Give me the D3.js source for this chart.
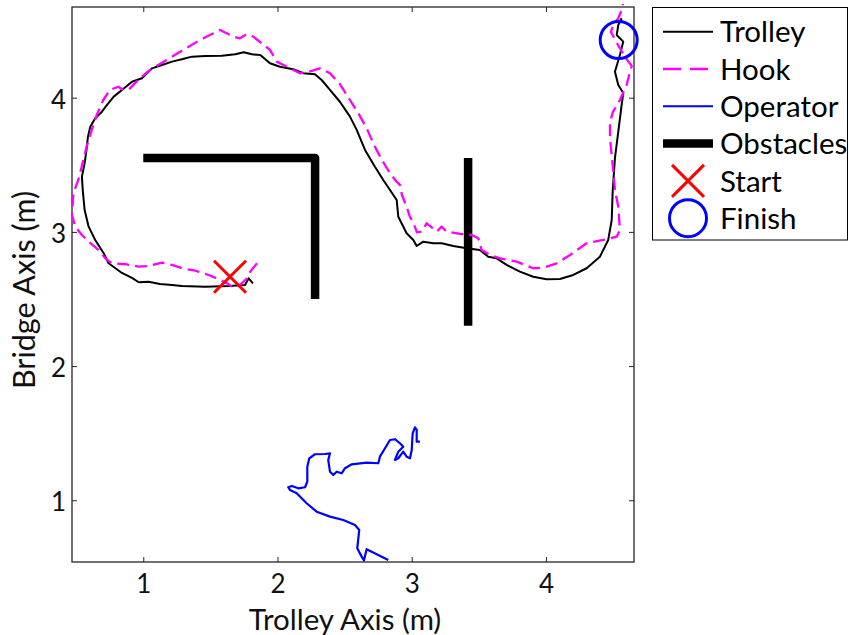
<!DOCTYPE html>
<html><head><meta charset="utf-8">
<script src="https://cdn.jsdelivr.net/npm/d3@7"></script>
<style>body{margin:0;background:#fff} svg{display:block}</style>
</head><body><svg id="c" width="849" height="635"></svg>
<script>
// ---- data (metres) ----
const xTicks = [1, 2, 3, 4];
const yTicks = [1, 2, 3, 4];
const xLabel = "Trolley Axis (m)";
const yLabel = "Bridge Axis (m)";
const legendLabels = ["Trolley", "Hook", "Operator", "Obstacles", "Start", "Finish"];

const trolleyPath = [
 [1.817,2.617],[1.785,2.654],[1.758,2.604],[1.638,2.597],[1.460,2.592],[1.288,2.597],[1.214,2.604],[1.124,2.612],
 [1.040,2.629],[0.966,2.625],[0.916,2.657],[0.841,2.694],[0.742,2.766],[0.705,2.841],[0.642,2.940],[0.593,3.039],
 [0.563,3.163],[0.549,3.312],[0.543,3.412],[0.563,3.511],[0.577,3.611],[0.588,3.710],[0.605,3.784],[0.642,3.847],
 [0.692,3.896],[0.730,3.946],[0.780,4.008],[0.841,4.058],[0.916,4.119],[0.990,4.145],[1.065,4.219],[1.139,4.244],
 [1.214,4.269],[1.288,4.286],[1.363,4.306],[1.462,4.311],[1.586,4.313],[1.685,4.324],[1.748,4.339],[1.810,4.324],
 [1.872,4.318],[1.944,4.257],[2.018,4.231],[2.117,4.212],[2.192,4.182],[2.279,4.175],[2.329,4.132],[2.391,4.058],
 [2.465,3.970],[2.540,3.859],[2.590,3.760],[2.652,3.611],[2.726,3.486],[2.788,3.387],[2.888,3.238],[2.900,3.113],
 [2.962,2.990],[3.012,2.940],[3.037,2.895],[3.086,2.927],[3.161,2.915],[3.223,2.915],[3.310,2.895],[3.409,2.878],
 [3.508,2.865],[3.570,2.815],[3.633,2.803],[3.707,2.754],[3.806,2.704],[3.905,2.666],[4.005,2.647],[4.104,2.649],
 [4.204,2.679],[4.303,2.729],[4.402,2.815],[4.464,2.940],[4.490,3.089],[4.497,3.300],[4.514,3.549],[4.539,3.747],
 [4.564,3.946],[4.576,4.035],[4.539,4.095],[4.514,4.194],[4.551,4.318],[4.576,4.418],[4.527,4.467],[4.539,4.542],
 [4.564,4.592]
];

const hookPath = [
 [1.847,2.766],[1.795,2.701],[1.773,2.654],[1.720,2.604],[1.661,2.592],[1.624,2.617],[1.562,2.647],[1.487,2.679],
 [1.387,2.711],[1.288,2.729],[1.214,2.754],[1.139,2.771],[1.040,2.746],[0.966,2.741],[0.866,2.759],[0.767,2.766],
 [0.717,2.803],[0.668,2.865],[0.593,2.927],[0.543,2.977],[0.493,3.039],[0.469,3.126],[0.479,3.288],[0.516,3.387],
 [0.541,3.486],[0.578,3.635],[0.616,3.760],[0.653,3.871],[0.702,3.983],[0.752,4.058],[0.814,4.082],[0.851,4.058],
 [0.901,4.070],[0.975,4.145],[1.050,4.207],[1.174,4.281],[1.298,4.356],[1.422,4.430],[1.522,4.480],[1.571,4.505],
 [1.621,4.480],[1.671,4.455],[1.720,4.443],[1.770,4.473],[1.820,4.455],[1.882,4.406],[1.944,4.356],[1.994,4.269],
 [2.093,4.219],[2.167,4.182],[2.234,4.194],[2.316,4.219],[2.391,4.182],[2.465,4.102],[2.540,3.983],[2.602,3.884],
 [2.664,3.774],[2.719,3.648],[2.778,3.536],[2.838,3.437],[2.888,3.374],[2.912,3.350],[2.927,3.275],[2.962,3.188],
 [2.987,3.111],[3.012,3.070],[3.039,2.996],[3.074,3.002],[3.111,3.064],[3.149,3.033],[3.186,3.002],[3.223,3.039],
 [3.260,3.002],[3.359,2.985],[3.447,2.977],[3.496,2.952],[3.521,2.865],[3.583,2.828],[3.657,2.803],[3.782,2.778],
 [3.905,2.729],[3.980,2.733],[4.080,2.766],[4.179,2.828],[4.303,2.915],[4.427,2.940],[4.527,2.964],[4.551,3.014],
 [4.539,3.188],[4.514,3.312],[4.502,3.449],[4.477,3.698],[4.477,3.819],[4.499,3.894],[4.551,3.983],[4.601,4.095],
 [4.626,4.192],[4.639,4.236],[4.589,4.304],[4.537,4.393],[4.484,4.490],[4.499,4.535],[4.539,4.592],[4.564,4.654],
 [4.574,4.698]
];

const operatorPath = [
 [2.825,0.555],[2.664,0.635],[2.644,0.551],[2.627,0.580],[2.594,0.642],[2.609,0.779],[2.577,0.816],[2.490,0.853],
 [2.391,0.878],[2.292,0.915],[2.217,0.978],[2.143,1.052],[2.093,1.077],[2.080,1.097],[2.106,1.107],[2.155,1.089],
 [2.205,1.097],[2.222,1.139],[2.222,1.250],[2.237,1.313],[2.279,1.343],[2.354,1.345],[2.391,1.350],[2.378,1.300],
 [2.391,1.213],[2.416,1.189],[2.441,1.213],[2.478,1.201],[2.503,1.239],[2.553,1.268],[2.664,1.280],[2.751,1.276],
 [2.763,1.325],[2.801,1.388],[2.838,1.449],[2.875,1.455],[2.912,1.425],[2.937,1.399],[2.900,1.362],[2.875,1.300],
 [2.900,1.313],[2.937,1.362],[2.962,1.325],[2.987,1.313],[3.000,1.375],[3.007,1.499],[3.024,1.544],[3.037,1.524],
 [3.037,1.437],[3.061,1.437]
];

const obstacleL = [[1.0,3.55],[2.28,3.55],[2.28,2.5]];
const obstacleBar = [[3.42,3.55],[3.42,2.3]];
const startPoint = [1.646, 2.666];
const finishPoint = [4.542, 4.43];

// ---- layout ----
const svg = d3.select("#c");
const L = 72, R = 634, T = 7, B = 562;
const x = d3.scaleLinear().domain([0.469, 4.656]).range([L, R]);
const y = d3.scaleLinear().domain([0.54, 4.676]).range([B, T]);
const font = "Lato, 'Open Sans', sans-serif";

const line = d3.line().x(d => x(d[0])).y(d => y(d[1]));

// axes (inward ticks, mirrored)
const axB = svg.append("g").attr("transform", `translate(0,${B})`)
  .call(d3.axisBottom(x).tickValues(xTicks).tickFormat(d3.format("d")).tickSizeInner(-5).tickSizeOuter(0).tickPadding(13));
const axL = svg.append("g").attr("transform", `translate(${L},0)`)
  .call(d3.axisLeft(y).tickValues(yTicks).tickFormat(d3.format("d")).tickSizeInner(-5).tickSizeOuter(0).tickPadding(6));
const axT = svg.append("g").attr("transform", `translate(0,${T})`)
  .call(d3.axisTop(x).tickValues(xTicks).tickFormat("").tickSizeInner(-5).tickSizeOuter(0));
const axR = svg.append("g").attr("transform", `translate(${R},0)`)
  .call(d3.axisRight(y).tickValues(yTicks).tickFormat("").tickSizeInner(-5).tickSizeOuter(0));
[axB, axL, axT, axR].forEach(g => {
  g.select(".domain").remove();
  g.selectAll(".tick line").attr("stroke", "#262626").attr("stroke-width", 1);
  g.selectAll(".tick text").attr("font-family", font).attr("font-size", 26).attr("fill", "#111");
});
axB.selectAll(".tick text").attr("dy", "0.71em");
axL.selectAll(".tick text").attr("dy", "0.40em");

svg.append("rect").attr("x", L).attr("y", T).attr("width", R - L).attr("height", B - T)
  .attr("fill", "none").attr("stroke", "#262626").attr("stroke-width", 1.3);

// data lines
svg.append("path").datum(obstacleL).attr("d", line).attr("fill", "none").attr("stroke", "#000")
  .attr("stroke-width", 8.5).attr("stroke-linejoin", "round").attr("stroke-linecap", "butt");
svg.append("path").datum(obstacleBar).attr("d", line).attr("fill", "none").attr("stroke", "#000")
  .attr("stroke-width", 8.5).attr("stroke-linecap", "butt");

svg.append("path").datum(trolleyPath).attr("d", line).attr("fill", "none").attr("stroke", "#000")
  .attr("stroke-width", 2).attr("stroke-linejoin", "round");
svg.append("path").datum(hookPath).attr("d", line).attr("fill", "none").attr("stroke", "#ff00ff")
  .attr("stroke-width", 2.3).attr("stroke-dasharray", "12,6").attr("stroke-linejoin", "round");
svg.append("path").datum(operatorPath).attr("d", line).attr("fill", "none").attr("stroke", "#0000ff")
  .attr("stroke-width", 2.2).attr("stroke-linejoin", "round");

function drawX(g, cx, cy, s) {
  g.append("path").attr("d", `M${cx - s},${cy - s}L${cx + s},${cy + s}M${cx - s},${cy + s}L${cx + s},${cy - s}`)
    .attr("stroke", "#ff0000").attr("stroke-width", 3).attr("fill", "none");
}
drawX(svg, x(startPoint[0]), y(startPoint[1]), 16);
svg.append("circle").attr("cx", x(finishPoint[0])).attr("cy", y(finishPoint[1])).attr("r", 18.5)
  .attr("fill", "none").attr("stroke", "#0000ff").attr("stroke-width", 3);

// axis labels
svg.append("text").attr("x", 345).attr("y", 629.5).attr("text-anchor", "middle")
  .attr("font-family", font).attr("font-size", 29.5).attr("fill", "#111").text(xLabel);
svg.append("text").attr("transform", "translate(35,290) rotate(-90)").attr("text-anchor", "middle")
  .attr("font-family", font).attr("font-size", 30.5).attr("fill", "#111").text(yLabel);

// legend
const lg = svg.append("g");
lg.append("rect").attr("x", 652.5).attr("y", 7.5).attr("width", 195).attr("height", 232.5)
  .attr("fill", "#fff").attr("stroke", "#000").attr("stroke-width", 1);
const rowY = i => 31.7 + i * 37.3;
const x0 = 663, x1 = 713;
lg.append("line").attr("x1", x0).attr("x2", x1).attr("y1", rowY(0)).attr("y2", rowY(0)).attr("stroke", "#000").attr("stroke-width", 2);
lg.append("line").attr("x1", x0).attr("x2", x1).attr("y1", rowY(1)).attr("y2", rowY(1)).attr("stroke", "#ff00ff").attr("stroke-width", 2.3).attr("stroke-dasharray", "18,9");
lg.append("line").attr("x1", x0).attr("x2", x1).attr("y1", rowY(2)).attr("y2", rowY(2)).attr("stroke", "#0000ff").attr("stroke-width", 2);
lg.append("line").attr("x1", x0).attr("x2", x1).attr("y1", rowY(3)).attr("y2", rowY(3)).attr("stroke", "#000").attr("stroke-width", 8.5);
drawX(lg, 688, rowY(4), 16);
lg.append("circle").attr("cx", 688).attr("cy", rowY(5)).attr("r", 18.5).attr("fill", "none").attr("stroke", "#0000ff").attr("stroke-width", 3);
lg.selectAll("text.lab").data(legendLabels).join("text").attr("class", "lab")
  .attr("x", 720).attr("y", (d, i) => rowY(i)).attr("dy", "0.36em")
  .attr("font-family", font).attr("font-size", 29.5).attr("fill", "#000").text(d => d);
</script></body></html>
